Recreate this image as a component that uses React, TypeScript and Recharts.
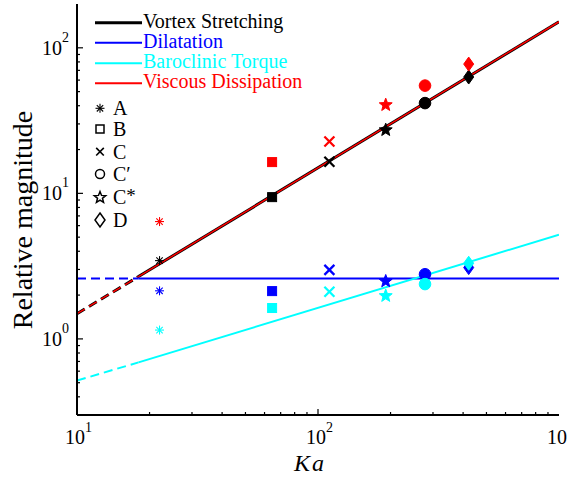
import React from 'react';
import { ComposedChart, Line, Scatter, XAxis, YAxis } from 'recharts';

// ---- data ----
const caseNames = ['A', 'B', 'C', "C'", 'C*', 'D'];
const caseKa = [22, 64.5, 111.5, 278, 191, 422];
const vortexPts = [3.45, 9.42, 16.5, 41.7, 27.6, 63];
const viscousPts = [6.4, 16.4, 22.7, 55, 41, 77.3];
const dilatPts = [2.14, 2.13, 2.98, 2.78, 2.52, 3.09];
const baroPts = [1.15, 1.63, 2.11, 2.38, 2.0, 3.31];

const fitKa = [10, 18, 1000];
const vortexFit = [1.49, 2.68, 151];
const viscousFit = [1.49, 2.68, 151];
const dilatFit = [2.6, 2.6, 2.6];
const baroFit = [0.517, 0.69, 5.2];

const xTicks = [10, 20, 30, 40, 50, 60, 70, 80, 90, 100, 200, 300, 400, 500, 600, 700, 800, 900, 1000];
const yTicks = [0.4, 0.5, 0.6, 0.7, 0.8, 0.9, 1, 2, 3, 4, 5, 6, 7, 8, 9, 10, 20, 30, 40, 50, 60, 70, 80, 90, 100];

const seriesNames = ['Vortex Stretching', 'Dilatation', 'Baroclinic Torque', 'Viscous Dissipation'];

const BLACK = '#000000';
const BLUE = '#0000ff';
const CYAN = '#00ffff';
const RED = '#ff0000';
const FONT = '"Liberation Serif", "Times New Roman", Tinos, "DejaVu Serif", "Noto Serif", FreeSerif, Times, serif';
const tStyle = (size: number, extra: any = {}) => ({ fontFamily: FONT, fontSize: size, ...extra });

const fitData = (ys: number[]) => fitKa.map((x, i) => ({ x, y: ys[i] }));
const ptData = (ys: number[]) => caseKa.map((x, i) => ({ x, y: ys[i], m: caseNames[i] }));

const isDecade = (v: number) => Math.abs(Math.log10(v) - Math.round(Math.log10(v))) < 1e-9;
const inside = (v: number, lo: number, hi: number) => v > lo * 1.0001 && v < hi * 0.9999;

function starPath(cx: number, cy: number, R: number, r: number) {
  let d = '';
  for (let i = 0; i < 10; i++) {
    const a = -Math.PI / 2 + (i * Math.PI) / 5;
    const rad = i % 2 === 0 ? R : r;
    d += (i ? 'L' : 'M') + (cx + rad * Math.cos(a)).toFixed(2) + ' ' + (cy + rad * Math.sin(a)).toFixed(2);
  }
  return d + 'Z';
}

function Marker({ kind, cx, cy, color, filled = true }: any) {
  if (cx == null || cy == null) return null;
  const fill = filled ? color : 'none';
  const sw = filled ? 1 : 1.5;
  switch (kind) {
    case 'A': {
      const s = 4.5, d = 3.2;
      return (
        <g stroke={color} strokeWidth={1.1}>
          <line x1={cx - s} y1={cy} x2={cx + s} y2={cy} />
          <line x1={cx} y1={cy - s} x2={cx} y2={cy + s} />
          <line x1={cx - d} y1={cy - d} x2={cx + d} y2={cy + d} />
          <line x1={cx - d} y1={cy + d} x2={cx + d} y2={cy - d} />
        </g>
      );
    }
    case 'B': {
      const s = filled ? 4.5 : 4;
      return <rect x={cx - s} y={cy - s} width={2 * s} height={2 * s} fill={fill} stroke={color} strokeWidth={sw} />;
    }
    case 'C': {
      const s = filled ? 5 : 3.8;
      return (
        <g stroke={color} strokeWidth={filled ? 2.3 : 1.6}>
          <line x1={cx - s} y1={cy - s} x2={cx + s} y2={cy + s} />
          <line x1={cx - s} y1={cy + s} x2={cx + s} y2={cy - s} />
        </g>
      );
    }
    case "C'":
      return <circle cx={cx} cy={cy} r={filled ? 5.8 : 4.5} fill={fill} stroke={color} strokeWidth={sw} />;
    case 'C*':
      return <path d={starPath(cx, cy + 0.8, filled ? 6.8 : 6, filled ? 2.9 : 2.6)} fill={fill} stroke={color} strokeWidth={sw} strokeLinejoin="miter" />;
    case 'D': {
      const w = 5, h = 7;
      return <path d={`M${cx} ${cy - h}L${cx + w} ${cy}L${cx} ${cy + h}L${cx - w} ${cy}Z`} fill={fill} stroke={color} strokeWidth={sw} />;
    }
  }
  return null;
}

const shapeFor = (color: string) => (p: any) => <Marker kind={p.payload.m} cx={p.cx} cy={p.cy} color={color} />;

function BottomTick(props: any) {
  const { x, y, payload } = props;
  const v = payload.value;
  const major = isDecade(v);
  const e = Math.round(Math.log10(v));
  return (
    <g>
      {inside(v, 10, 1000) && <line x1={x} x2={x} y1={y} y2={y - (major ? 6 : 3)} stroke="#000" strokeWidth={1.2} />}
      {major && (
        <text x={x - 12} y={y + 29} style={tStyle(20)} fill="#000" textAnchor="start">
          10<tspan dy={-12} style={tStyle(14)}>{e}</tspan>
        </text>
      )}
    </g>
  );
}

function TopTick(props: any) {
  const { x, y, payload } = props;
  const v = payload.value;
  if (!inside(v, 10, 1000)) return null;
  const major = isDecade(v);
  return <line x1={x} x2={x} y1={y} y2={y + (major ? 6 : 3)} stroke="#000" strokeWidth={1.2} />;
}

function LeftTick(props: any) {
  const { x, y, payload } = props;
  const v = payload.value;
  const major = isDecade(v);
  const e = Math.round(Math.log10(v));
  return (
    <g>
      {inside(v, 0.3, 200) && <line x1={x} x2={x + (major ? 6 : 3)} y1={y} y2={y} stroke="#000" strokeWidth={1.2} />}
      {major && (
        <text x={x - 8} y={y + 7} style={tStyle(20)} fill="#000" textAnchor="end">
          10<tspan dy={-13} style={tStyle(14)}>{e}</tspan>
        </text>
      )}
    </g>
  );
}

function RightTick(props: any) {
  const { x, y, payload } = props;
  const v = payload.value;
  if (!inside(v, 0.3, 200)) return null;
  const major = isDecade(v);
  return <line x1={x} x2={x - (major ? 6 : 3)} y1={y} y2={y} stroke="#000" strokeWidth={1.2} />;
}

const lineColors = [BLACK, BLUE, CYAN, RED];
const lineWidths = [3, 2, 2, 2];

function Legends() {
  const rowsY = [22.7, 42.7, 63.3, 83.3];
  const caseY = [108.3, 129, 151.7, 174, 196.7, 220];
  return (
    <svg width={567} height={478} style={{ position: 'absolute', left: 0, top: 0, pointerEvents: 'none' }}>
      {seriesNames.map((n, i) => (
        <g key={n}>
          <line x1={95} x2={142} y1={rowsY[i]} y2={rowsY[i]} stroke={lineColors[i]} strokeWidth={lineWidths[i]} />
          <text x={143} y={rowsY[i] + 5} style={tStyle(20)} fill={lineColors[i]}>{n}</text>
        </g>
      ))}
      {caseNames.map((c, i) => (
        <g key={c}>
          <Marker kind={c} cx={100} cy={caseY[i]} color={BLACK} filled={false} />
          <text x={113} y={caseY[i] + 7} style={tStyle(20)} fill="#000">
            {c === "C'" ? 'C\u2032' : c === 'C*' ? <>C<tspan dy={-2} style={tStyle(19)}>*</tspan></> : c}
          </text>
        </g>
      ))}
    </svg>
  );
}

export default function App() {
  const axisLine = { stroke: '#000', strokeWidth: 2 };
  return (
    <div style={{ position: 'absolute', left: 0, top: 0, width: 567, height: 478, background: '#fff', overflow: 'hidden', fontFamily: FONT }}>
      <ComposedChart width={567} height={478} margin={{ top: 4, right: 8, bottom: 0, left: 0 }} style={{ fontFamily: FONT }}>
        <XAxis
          dataKey="x" type="number" scale="log" domain={[10, 1000]} allowDataOverflow
          ticks={xTicks} interval={0} tickSize={0} tickMargin={0} tickLine={false}
          tick={<BottomTick />} axisLine={axisLine} height={63}
          label={() => (
            <text x={310} y={471} style={tStyle(24, { fontStyle: 'italic', letterSpacing: 2 })} textAnchor="middle" fill="#000">Ka</text>
          )}
        />
        <XAxis
          xAxisId="top" orientation="top" dataKey="x" type="number" scale="log" domain={[10, 1000]} allowDataOverflow
          ticks={xTicks} interval={0} tickSize={0} tickMargin={0} tickLine={false}
          tick={<TopTick />} axisLine={axisLine} height={0}
        />
        <YAxis
          type="number" scale="log" domain={[0.3, 200]} allowDataOverflow
          ticks={yTicks} interval={0} tickSize={0} tickMargin={0} tickLine={false}
          tick={<LeftTick />} axisLine={axisLine} width={77}
          label={() => (
            <text x={32} y={220} style={tStyle(28)} textAnchor="middle" fill="#000" transform="rotate(-90 32 220)">Relative magnitude</text>
          )}
        />
        <YAxis
          yAxisId="right" orientation="right" type="number" scale="log" domain={[0.3, 200]} allowDataOverflow
          ticks={yTicks} interval={0} tickSize={0} tickMargin={0} tickLine={false}
          tick={<RightTick />} axisLine={axisLine} width={0}
        />

        <Line data={fitData(vortexFit).slice(0, 2)} dataKey="y" stroke={BLACK} strokeWidth={3} strokeDasharray="9 5" dot={false} isAnimationActive={false} />
        <Line data={fitData(vortexFit).slice(1)} dataKey="y" stroke={BLACK} strokeWidth={3} dot={false} isAnimationActive={false} />
        <Line data={fitData(viscousFit).slice(0, 2)} dataKey="y" stroke={RED} strokeWidth={1.5} strokeDasharray="9 5" dot={false} isAnimationActive={false} />
        <Line data={fitData(viscousFit).slice(1)} dataKey="y" stroke={RED} strokeWidth={1.5} dot={false} isAnimationActive={false} />
        <Line data={fitData(dilatFit).slice(0, 2)} dataKey="y" stroke={BLUE} strokeWidth={2} strokeDasharray="9 5" dot={false} isAnimationActive={false} />
        <Line data={fitData(dilatFit).slice(1)} dataKey="y" stroke={BLUE} strokeWidth={2} dot={false} isAnimationActive={false} />
        <Line data={fitData(baroFit).slice(0, 2)} dataKey="y" stroke={CYAN} strokeWidth={2} strokeDasharray="9 5" dot={false} isAnimationActive={false} />
        <Line data={fitData(baroFit).slice(1)} dataKey="y" stroke={CYAN} strokeWidth={2} dot={false} isAnimationActive={false} />

        <Scatter data={ptData(dilatPts)} dataKey="y" shape={shapeFor(BLUE)} isAnimationActive={false} />
        <Scatter data={ptData(baroPts)} dataKey="y" shape={shapeFor(CYAN)} isAnimationActive={false} />
        <Scatter data={ptData(vortexPts)} dataKey="y" shape={shapeFor(BLACK)} isAnimationActive={false} />
        <Scatter data={ptData(viscousPts)} dataKey="y" shape={shapeFor(RED)} isAnimationActive={false} />
      </ComposedChart>
      <Legends />
    </div>
  );
}
